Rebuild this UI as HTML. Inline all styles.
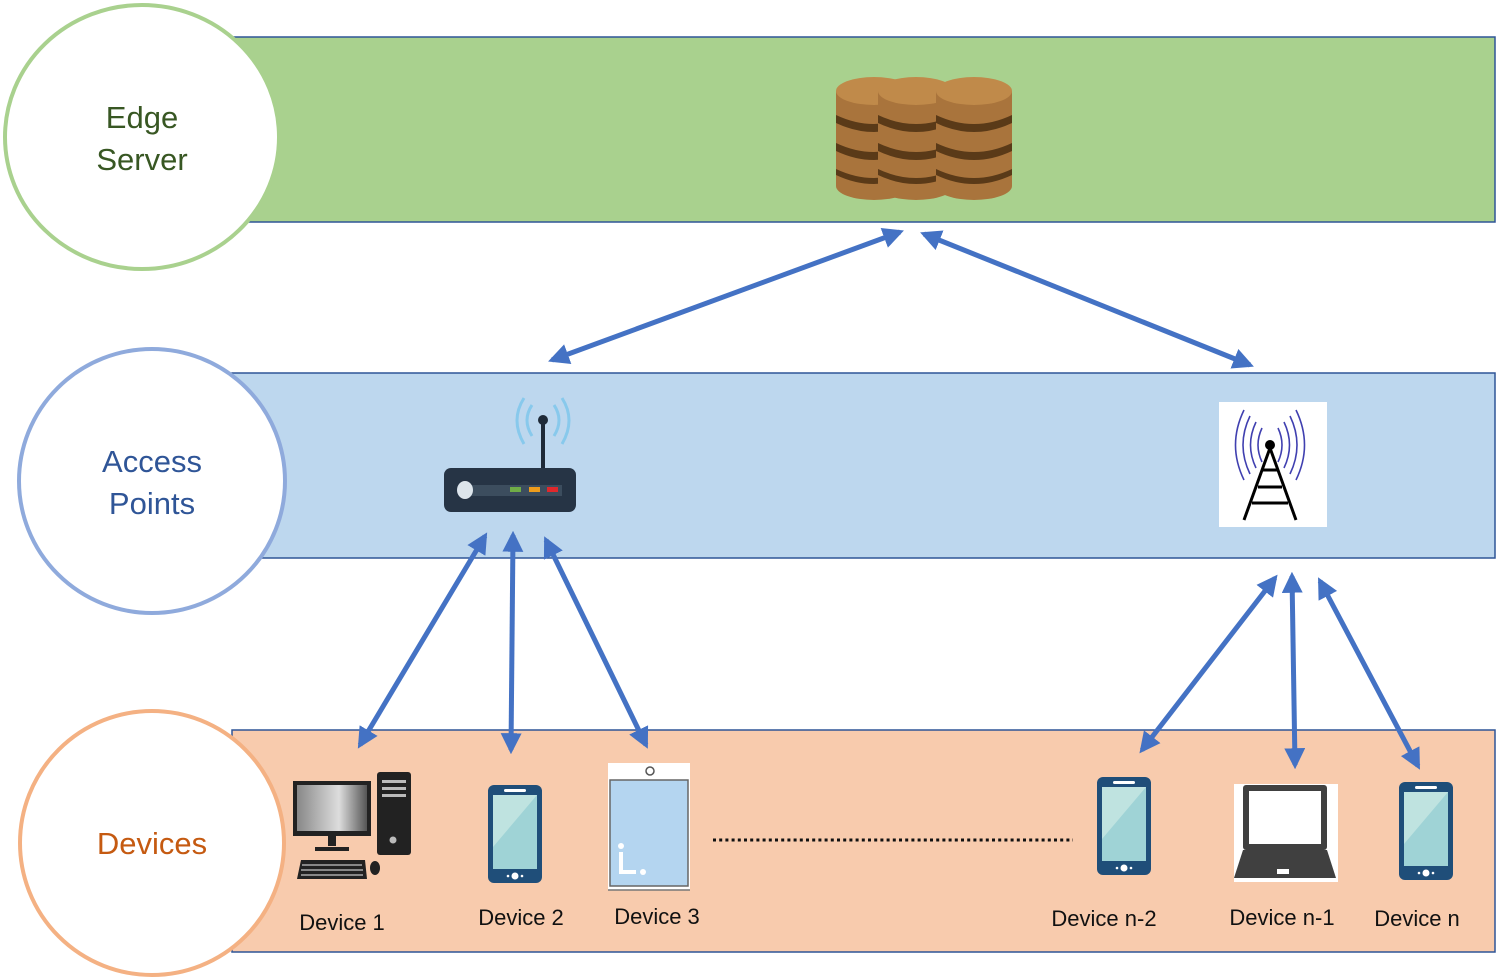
<!DOCTYPE html>
<html><head><meta charset="utf-8"><style>
html,body{margin:0;padding:0;background:#fff;width:1499px;height:980px;overflow:hidden}
svg{display:block}
text{font-family:"Liberation Sans",sans-serif}
</style></head><body>
<svg width="1499" height="980" viewBox="0 0 1499 980" xmlns="http://www.w3.org/2000/svg">
<defs>
<marker id="a" viewBox="0 0 10 10" refX="8" refY="5" markerWidth="4.2" markerHeight="4.2" orient="auto-start-reverse" markerUnits="strokeWidth">
<path d="M0,0 L10,5 L0,10 Z" fill="#4472c4"/></marker>
<g id="phone">
<rect x="0" y="0" width="54" height="98" rx="6" fill="#1f4e79"/>
<rect x="5" y="10" width="44" height="74" fill="#9fd3d6"/>
<path d="M5,10 L49,10 L5,62 Z" fill="#bfe3e0"/>
<rect x="16" y="4" width="22" height="3" rx="1.5" fill="#fff"/>
<circle cx="27" cy="91" r="3.5" fill="#fff"/><circle cx="20" cy="91" r="1.3" fill="#fff"/><circle cx="34" cy="91" r="1.3" fill="#fff"/>
</g>
<g id="coin">
<rect x="0" y="14" width="76" height="95" fill="#a9743c"/>
<ellipse cx="38" cy="109" rx="38" ry="14" fill="#a9743c"/>
<g fill="#5a3a18"><path d="M0,38 Q38,56 76,38 L76,46 Q38,64 0,46Z"/><path d="M0,66 Q38,84 76,66 L76,74 Q38,92 0,74Z"/><path d="M0,92 Q38,110 76,92 L76,98 Q38,116 0,98Z"/></g>
<ellipse cx="38" cy="14" rx="38" ry="14" fill="#c08a4a"/>
</g>
</defs>

<!-- bands -->
<rect x="232" y="37" width="1263" height="185" fill="#a9d18e" stroke="#2f5597" stroke-width="1.5"/>
<rect x="232" y="373" width="1263" height="185" fill="#bdd7ee" stroke="#2f5597" stroke-width="1.5"/>
<rect x="232" y="730" width="1263" height="222" fill="#f8cbad" stroke="#2f5597" stroke-width="1.5"/>

<!-- circles -->
<ellipse cx="142" cy="137" rx="137" ry="132" fill="#fff" stroke="#a9d18e" stroke-width="4"/>
<text x="142" y="128" font-size="31" fill="#385723" text-anchor="middle">Edge</text>
<text x="142" y="170" font-size="31" fill="#385723" text-anchor="middle">Server</text>
<ellipse cx="152" cy="481" rx="133" ry="132" fill="#fff" stroke="#8faadc" stroke-width="4"/>
<text x="152" y="472" font-size="31" fill="#2f5597" text-anchor="middle">Access</text>
<text x="152" y="514" font-size="31" fill="#2f5597" text-anchor="middle">Points</text>
<ellipse cx="152" cy="843" rx="132" ry="132" fill="#fff" stroke="#f4b183" stroke-width="4"/>
<text x="152" y="854" font-size="31" fill="#c55a11" text-anchor="middle">Devices</text>

<!-- database -->
<use href="#coin" x="836" y="77"/>
<use href="#coin" x="878" y="77"/>
<use href="#coin" x="936" y="77"/>

<!-- router -->
<g fill="none" stroke="#7cc6ec" stroke-width="3" opacity="0.8">
<path d="M532,405 Q522,420 532,436"/><path d="M524,398 Q510,420 524,444"/>
<path d="M554,405 Q564,420 554,436"/><path d="M562,398 Q576,420 562,444"/>
</g>
<line x1="543" y1="420" x2="543" y2="470" stroke="#1e2a38" stroke-width="4"/>
<circle cx="543" cy="420" r="5" fill="#1e2a38"/>
<rect x="444" y="468" width="132" height="44" rx="7" fill="#263445"/>
<rect x="470" y="485" width="92" height="11" fill="#3c4d5e"/>
<ellipse cx="465" cy="490" rx="8" ry="9" fill="#dde5ec"/>
<rect x="510" y="487" width="11" height="5" fill="#70ad47"/>
<rect x="529" y="487" width="11" height="5" fill="#ed9c1c"/>
<rect x="547" y="487" width="11" height="5" fill="#e0282c"/>

<!-- tower -->
<rect x="1219" y="402" width="108" height="125" fill="#fff"/>
<g fill="none" stroke="#4040b0" stroke-width="1.6">
<path d="M1262,428 Q1254,445 1262,462"/><path d="M1256,422 Q1245,445 1256,468"/><path d="M1250,416 Q1236,445 1250,474"/><path d="M1244,410 Q1227,445 1244,480"/>
<path d="M1278,428 Q1286,445 1278,462"/><path d="M1284,422 Q1295,445 1284,468"/><path d="M1290,416 Q1304,445 1290,474"/><path d="M1296,410 Q1313,445 1296,480"/>
</g>
<circle cx="1270" cy="445" r="5" fill="#000"/>
<g stroke="#000" stroke-width="3" fill="none">
<path d="M1270,448 L1244,520 M1270,448 L1296,520 M1258,487 L1282,487 M1252,503 L1288,503 M1262,470 L1278,470"/>
</g>

<!-- arrows -->
<g stroke="#4472c4" stroke-width="5" marker-start="url(#a)" marker-end="url(#a)">
<line x1="552" y1="360" x2="900" y2="232"/>
<line x1="924" y1="234" x2="1250" y2="365"/>
<line x1="485" y1="536" x2="360" y2="745"/>
<line x1="513" y1="535" x2="511" y2="750"/>
<line x1="546" y1="540" x2="646" y2="745"/>
<line x1="1275" y1="578" x2="1142" y2="750"/>
<line x1="1292" y1="576" x2="1295" y2="765"/>
<line x1="1320" y1="581" x2="1418" y2="766"/>
</g>

<!-- device 1 -->
<rect x="293" y="781" width="78" height="55" fill="#222"/>
<rect x="297" y="785" width="70" height="46" fill="#999"/>
<rect x="297" y="785" width="70" height="46" fill="url(#g)"/>
<defs><linearGradient id="g"><stop offset="0" stop-color="#888"/><stop offset="0.6" stop-color="#ddd"/><stop offset="1" stop-color="#555"/></linearGradient></defs>
<rect x="328" y="836" width="8" height="10" fill="#222"/>
<rect x="315" y="847" width="34" height="4" fill="#222"/>
<rect x="377" y="772" width="34" height="83" rx="3" fill="#222"/>
<rect x="382" y="780" width="24" height="3" fill="#bbb"/><rect x="382" y="787" width="24" height="3" fill="#bbb"/><rect x="382" y="794" width="24" height="3" fill="#bbb"/>
<circle cx="393" cy="840" r="3.5" fill="#bbb"/>
<path d="M301,860 L365,860 L367,879 L297,879Z" fill="#222"/>
<g stroke="#aaa" stroke-width="1.5"><line x1="302" y1="865" x2="362" y2="865"/><line x1="301" y1="870" x2="363" y2="870"/><line x1="301" y1="875" x2="363" y2="875"/></g>
<ellipse cx="375" cy="868" rx="5" ry="7" fill="#222"/>
<text x="342" y="930" font-size="22" fill="#111" text-anchor="middle">Device 1</text>

<!-- device 2 -->
<use href="#phone" x="488" y="785"/>
<text x="521" y="925" font-size="22" fill="#111" text-anchor="middle">Device 2</text>

<!-- device 3 tablet -->
<rect x="608" y="763" width="82" height="127" fill="#fff"/>
<rect x="610" y="780" width="78" height="106" fill="#b4d5f0" stroke="#666" stroke-width="1.5"/>
<circle cx="650" cy="771" r="4" fill="none" stroke="#555" stroke-width="1.5"/>
<line x1="608" y1="890" x2="690" y2="890" stroke="#777" stroke-width="1.5"/>
<circle cx="621" cy="846" r="3" fill="#fff"/>
<path d="M621,852 L621,872 L636,872" stroke="#fff" stroke-width="4" fill="none"/>
<circle cx="643" cy="872" r="3" fill="#fff"/>
<text x="657" y="924" font-size="22" fill="#111" text-anchor="middle">Device 3</text>

<!-- dotted -->
<line x1="713" y1="840" x2="1073" y2="840" stroke="#111" stroke-width="3" stroke-dasharray="3,3.2"/>

<!-- device n-2 -->
<use href="#phone" x="1097" y="777"/>
<text x="1104" y="926" font-size="22" fill="#111" text-anchor="middle">Device n-2</text>

<!-- laptop -->
<rect x="1234" y="784" width="104" height="98" fill="#fff"/>
<rect x="1243" y="785" width="84" height="65" rx="3" fill="#404040"/>
<rect x="1249" y="791" width="72" height="53" fill="#fff"/>
<path d="M1243,850 L1327,850 L1336,878 L1234,878Z" fill="#404040"/>
<rect x="1277" y="869" width="12" height="5" fill="#fff"/>
<text x="1282" y="925" font-size="22" fill="#111" text-anchor="middle">Device n-1</text>

<!-- device n -->
<use href="#phone" x="1399" y="782"/>
<text x="1417" y="926" font-size="22" fill="#111" text-anchor="middle">Device n</text>
</svg>
</body></html>
